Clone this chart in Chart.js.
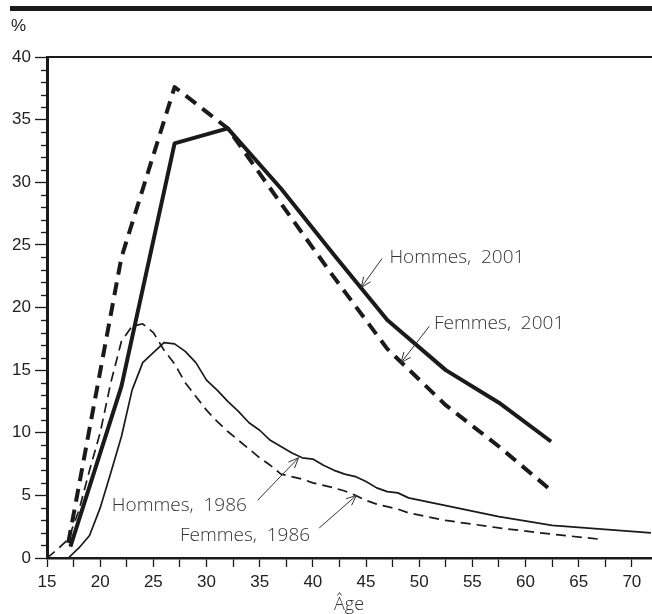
<!DOCTYPE html>
<html>
<head>
    <title>Âge</title>
    <script src="https://cdn.jsdelivr.net/npm/chart.js"></script>
    <style>
        body { margin: 0; background: #fff; }
        .chart-container { position: relative; width: 652px; height: 614px; }
    </style>
</head>
<body>
    <div class="chart-container">
        <canvas id="age-chart" width="652" height="614"></canvas>
    </div>

    <script>
        // data
        const agesHommes2001 = [17.2, 22, 27, 32, 37, 42, 47, 52.5, 57.5, 62.4];
        const hommes2001 = [0.9, 13.7, 33.1, 34.3, 29.5, 24.2, 19.0, 15.0, 12.4, 9.3];

        const agesFemmes2001 = [17.0, 22, 27, 32, 37, 42, 47, 52.5, 57.5, 62.4];
        const femmes2001 = [1.2, 24.0, 37.6, 34.3, 28.3, 22.4, 16.7, 12.2, 8.9, 5.4];

        const agesHommes1986 = [17, 18, 19, 20, 21, 22, 23, 24, 25, 26, 27, 28, 29, 30, 31, 32, 33, 34, 35, 36,
            37, 38, 39, 40, 41, 42, 43, 44, 45, 46, 47, 48, 49, 57.5, 62.5, 71.8];
        const hommes1986 = [0, 0.8, 1.8, 4.0, 6.8, 9.7, 13.4, 15.6, 16.4, 17.2, 17.1, 16.5, 15.6, 14.2, 13.4, 12.5, 11.7, 10.8, 10.2, 9.4,
            8.9, 8.4, 8.0, 7.9, 7.4, 7.0, 6.7, 6.5, 6.1, 5.6, 5.3, 5.2, 4.8, 3.3, 2.6, 2.0];

        const agesFemmes1986 = [15, 16, 17, 18, 19, 20, 21, 22, 23, 24, 25, 26, 27, 28, 29, 30, 31, 32, 33, 34, 35, 36,
            37, 38, 39, 40, 41, 42, 43, 44, 45, 46, 47, 48, 49, 52.5, 57.5, 62.5, 67];
        const femmes1986 = [0, 0.7, 1.5, 3.8, 7.0, 10.0, 14.0, 17.3, 18.5, 18.7, 18.0, 16.6, 15.5, 14.0, 12.9, 11.8, 10.9, 10.1, 9.4, 8.7, 8.0, 7.4,
            6.7, 6.5, 6.3, 6.0, 5.8, 5.6, 5.35, 5.0, 4.6, 4.3, 4.1, 3.9, 3.6, 3.0, 2.4, 1.9, 1.5];

        // labels: text anchor (age, %) and arrow from -> to
        const labelTexts = ['Hommes,  2001', 'Femmes,  2001', 'Hommes,  1986', 'Femmes,  1986'];
        const labelAt = [[47.2, 23.95], [51.4, 18.7], [21.1, 4.15], [27.5, 1.75]];
        const arrowFrom = [[46.5, 23.9], [50.95, 18.5], [34.8, 4.6], [40.6, 2.4]];
        const arrowTo = [[44.55, 21.6], [48.3, 15.6], [38.65, 8.0], [44.1, 5.0]];

        const toPoints = (xs, ys) => xs.map((x, i) => ({ x: x, y: ys[i] }));

        const ink = '#1a1a1a';
        const axisFont = { family: '"Liberation Sans", Arial, sans-serif', size: 17 };

        const decorations = {
            id: 'decorations',
            afterDraw(chart) {
                const ctx = chart.ctx;
                const xs = chart.scales.x, ys = chart.scales.y;
                const area = chart.chartArea;
                ctx.save();

                // thick bar at the very top
                ctx.fillStyle = ink;
                ctx.fillRect(10, 6, chart.width - 10, 5);

                // top frame line
                ctx.strokeStyle = ink;
                ctx.lineWidth = 2;
                ctx.beginPath();
                ctx.moveTo(area.left, area.top);
                ctx.lineTo(area.right + 1, area.top);
                ctx.stroke();

                // minor ticks on the y axis
                ctx.lineWidth = 1.3;
                for (let v = 1; v < 40; v++) {
                    if (v % 5 === 0) continue;
                    const py = Math.round(ys.getPixelForValue(v)) + 0.5;
                    ctx.beginPath();
                    ctx.moveTo(area.left - 6, py);
                    ctx.lineTo(area.left, py);
                    ctx.stroke();
                }

                // % unit
                ctx.fillStyle = '#222';
                ctx.font = '17px "Liberation Sans", Arial, sans-serif';
                ctx.textAlign = 'left';
                ctx.textBaseline = 'middle';
                ctx.fillText('%', 11, 26);

                // series labels with arrows
                ctx.font = '300 19px "Open Sans", sans-serif';
                ctx.fillStyle = '#333';
                ctx.strokeStyle = '#333';
                ctx.lineWidth = 1;
                labelTexts.forEach((t, i) => {
                    ctx.fillText(t, xs.getPixelForValue(labelAt[i][0]), ys.getPixelForValue(labelAt[i][1]));
                    const x1 = xs.getPixelForValue(arrowFrom[i][0]), y1 = ys.getPixelForValue(arrowFrom[i][1]);
                    const x2 = xs.getPixelForValue(arrowTo[i][0]), y2 = ys.getPixelForValue(arrowTo[i][1]);
                    const a = Math.atan2(y2 - y1, x2 - x1);
                    ctx.beginPath();
                    ctx.moveTo(x1, y1);
                    ctx.lineTo(x2, y2);
                    ctx.moveTo(x2 - 11 * Math.cos(a - 0.4), y2 - 11 * Math.sin(a - 0.4));
                    ctx.lineTo(x2, y2);
                    ctx.lineTo(x2 - 11 * Math.cos(a + 0.4), y2 - 11 * Math.sin(a + 0.4));
                    ctx.stroke();
                });

                ctx.restore();
            }
        };

        const ctx = document.getElementById('age-chart').getContext('2d');
        const ageChart = new Chart(ctx, {
            type: 'line',
            data: {
                datasets: [{
                    label: 'Hommes, 2001',
                    data: toPoints(agesHommes2001, hommes2001),
                    borderColor: ink,
                    borderWidth: 4
                },
                {
                    label: 'Femmes, 2001',
                    data: toPoints(agesFemmes2001, femmes2001),
                    borderColor: ink,
                    borderWidth: 4,
                    borderDash: [13, 8]
                },
                {
                    label: 'Hommes, 1986',
                    data: toPoints(agesHommes1986, hommes1986),
                    borderColor: ink,
                    borderWidth: 1.7
                },
                {
                    label: 'Femmes, 1986',
                    data: toPoints(agesFemmes1986, femmes1986),
                    borderColor: ink,
                    borderWidth: 1.7,
                    borderDash: [10, 6]
                }]
            },
            options: {
                responsive: false,
                animation: false,
                layout: { padding: { top: 57, right: 1, left: 0, bottom: 0 } },
                elements: {
                    point: { radius: 0 },
                    line: { tension: 0, fill: false, borderJoinStyle: 'round', borderCapStyle: 'butt' }
                },
                plugins: {
                    legend: { display: false },
                    tooltip: { enabled: false }
                },
                scales: {
                    x: {
                        type: 'linear',
                        min: 15,
                        max: 71.8,
                        afterFit: s => { s.height = 56; },
                        ticks: {
                            stepSize: 2.5,
                            includeBounds: false,
                            autoSkip: false,
                            maxRotation: 0,
                            padding: 5,
                            color: '#222',
                            font: axisFont,
                            callback: v => (v % 5 === 0 ? v : '')
                        },
                        grid: { drawOnChartArea: false, tickLength: 9, tickColor: ink, tickWidth: 1.3 },
                        border: { display: true, color: ink, width: 2.5 },
                        title: {
                            display: true,
                            text: 'Âge',
                            color: '#333',
                            font: { family: '"Open Sans", sans-serif', size: 18, weight: '300' },
                            padding: { top: 2, bottom: -2 }
                        }
                    },
                    y: {
                        min: 0,
                        max: 40,
                        afterFit: s => { s.width = 47; },
                        ticks: {
                            stepSize: 5,
                            padding: 4,
                            color: '#222',
                            font: axisFont
                        },
                        grid: { drawOnChartArea: false, tickLength: 12, tickColor: ink, tickWidth: 1.3 },
                        border: { display: true, color: ink, width: 3 }
                    }
                }
            },
            plugins: [decorations]
        });
    </script>
</body>
</html>
